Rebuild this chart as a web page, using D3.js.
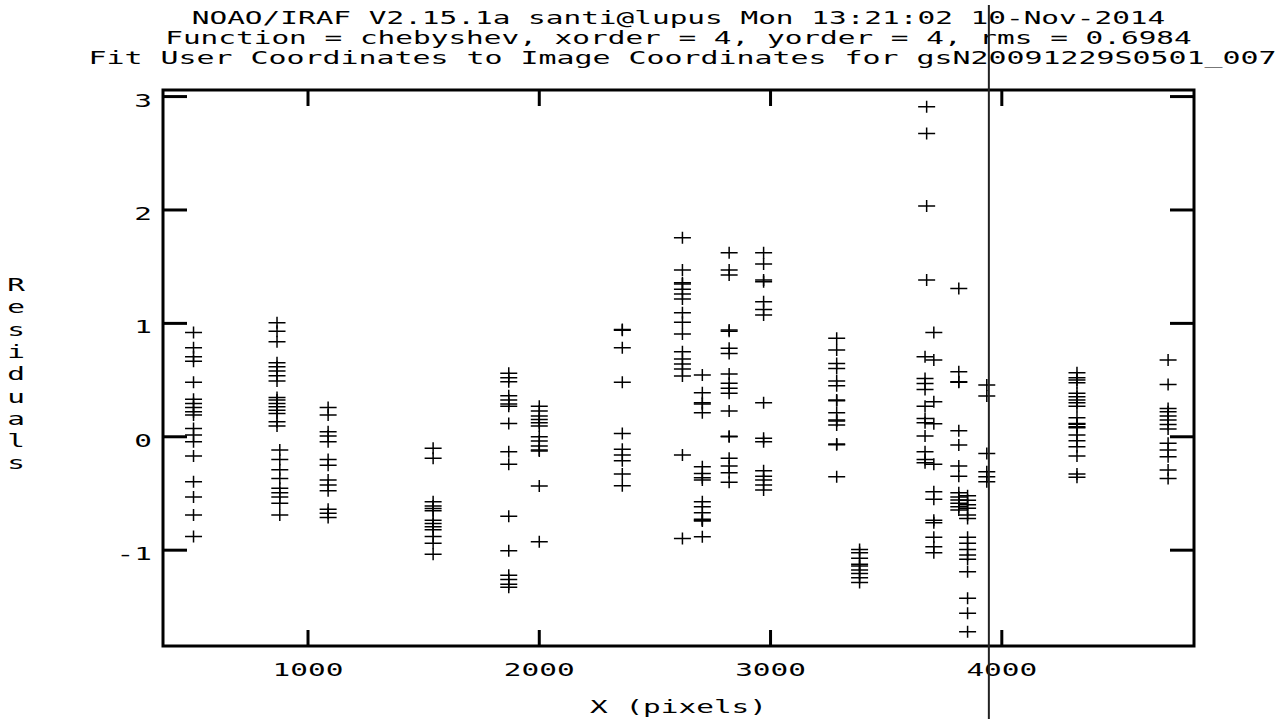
<!DOCTYPE html>
<html>
<head>
<meta charset="utf-8">
<script src="https://cdn.jsdelivr.net/npm/d3@7"></script>
<style>
  body { margin: 0; background: #fff; }
  svg { display: block; }
  text { font-family: "DejaVu Sans Mono", monospace; font-size: 18px; fill: #000; }
</style>
</head>
<body>
<div id="chart"></div>
<script>
// title lines, axis labels and ticks
const titleLines = [
  "NOAO/IRAF V2.15.1a santi@lupus Mon 13:21:02 10-Nov-2014",
  "Function = chebyshev, xorder = 4, yorder = 4, rms = 0.6984",
  "Fit User Coordinates to Image Coordinates for gsN20091229S0501_007"
];
const xLabel = "X (pixels)";
const yLabel = "Residuals";
const xTicks = [1000, 2000, 3000, 4000];
const yTicks = [-1, 0, 1, 2, 3];
const xDomain = [373, 4831];
const yDomain = [-1.845, 3.058];
const cursorX = 3944;

// x position (pixels) of each column of points
const colX = [505, 866, 878, 1087, 1541, 1868, 2000, 2359, 2619, 2705, 2821, 2970,
  3286, 3385, 3675, 3668, 3706, 3814, 3852, 3935, 4325, 4719];

// residuals in each column
const res01 = [0.92, 0.785, 0.705, 0.667, 0.48, 0.332, 0.294, 0.259, 0.22, 0.191, 0.074, 0.015, -0.044, -0.17, -0.397, -0.53, -0.69, -0.88];
const res02 = [1.005, 0.93, 0.838, 0.653, 0.617, 0.58, 0.538, 0.491, 0.347, 0.324, 0.294, 0.265, 0.235, 0.206, 0.132, 0.094];
const res03 = [-0.117, -0.2, -0.29, -0.367, -0.455, -0.494, -0.53, -0.587, -0.69];
const res04 = [0.259, 0.191, 0.044, 0.006, -0.044, -0.2, -0.25, -0.382, -0.426, -0.476, -0.64, -0.675, -0.711];
const res05 = [-0.102, -0.19, -0.573, -0.611, -0.632, -0.653, -0.735, -0.764, -0.794, -0.82, -0.88, -0.94, -1.035];
const res06 = [0.56, 0.52, 0.485, 0.362, 0.324, 0.288, 0.27, 0.118, -0.132, -0.243, -0.7, -1.005, -1.22, -1.258, -1.3, -1.328];
const res07 = [0.27, 0.227, 0.183, 0.153, 0.124, 0.094, 0.0, -0.038, -0.082, -0.117, -0.126, -0.435, -0.926];
const res08 = [0.947, 0.94, 0.785, 0.48, 0.03, -0.111, -0.161, -0.212, -0.329, -0.432];
const res09 = [1.755, 1.47, 1.358, 1.347, 1.3, 1.258, 1.214, 1.094, 1.009, 0.906, 0.75, 0.685, 0.641, 0.597, 0.535, -0.161, -0.896];
const res10 = [0.544, 0.388, 0.3, 0.29, 0.212, -0.265, -0.323, -0.362, -0.382, -0.573, -0.617, -0.67, -0.728, -0.735, -0.743, -0.882];
const res11 = [1.623, 1.47, 1.426, 0.941, 0.93, 0.78, 0.735, 0.553, 0.471, 0.427, 0.383, 0.227, 0.0, 0.005, -0.19, -0.258, -0.317, -0.402];
const res12 = [1.623, 1.523, 1.382, 1.367, 1.19, 1.123, 1.073, 0.3, -0.014, -0.044, -0.3, -0.347, -0.382, -0.426, -0.47];
const res13 = [0.868, 0.765, 0.647, 0.603, 0.491, 0.45, 0.324, 0.318, 0.212, 0.147, 0.14, 0.103, -0.064, -0.07, -0.353];
const res14 = [-0.993, -1.023, -1.072, -1.125, -1.14, -1.175, -1.205, -1.243, -1.284];
const res15 = [2.91, 2.675, 2.034, 1.382];
const res16 = [0.705, 0.515, 0.47, 0.418, 0.27, 0.162, 0.124, 0.006, -0.132, -0.2, -0.229];
const res17 = [0.92, 0.676, 0.309, 0.115, -0.243, -0.485, -0.552, -0.735, -0.758, -0.887, -0.97, -1.023];
const res18 = [1.308, 0.573, 0.485, 0.48, 0.053, -0.073, -0.258, -0.347, -0.494, -0.53, -0.558, -0.587, -0.617, -0.646];
const res19 = [-0.52, -0.56, -0.6, -0.63, -0.69, -0.72, -0.887, -0.94, -0.993, -1.043, -1.081, -1.19, -1.425, -1.557, -1.72];
const res20 = [0.456, 0.359, -0.147, -0.309, -0.353, -0.397];
const res21 = [0.565, 0.52, 0.5, 0.476, 0.383, 0.353, 0.324, 0.3, 0.27, 0.168, 0.118, 0.11, 0.088, 0.08, 0.015, -0.035, -0.088, -0.17, -0.329, -0.358];
const res22 = [0.676, 0.462, 0.25, 0.22, 0.183, 0.147, 0.109, 0.068, -0.058, -0.117, -0.176, -0.294, -0.367];

const columns = [res01, res02, res03, res04, res05, res06, res07, res08, res09, res10, res11,
  res12, res13, res14, res15, res16, res17, res18, res19, res20, res21, res22];

const width = 1279,
  height = 719;
const plotLeft = 163, plotTop = 90, plotRight = 1194, plotBottom = 646;
const charW = 17.7;

const svg = d3.select("#chart")
  .append("svg")
  .attr("width", width)
  .attr("height", height);

const x = d3.scaleLinear().domain(xDomain).range([plotLeft, plotRight]);
const y = d3.scaleLinear().domain(yDomain).range([plotBottom, plotTop]);

// stretched monospace text, like the IRAF plot font
function label(str, px, py, anchor, cw = charW) {
  return svg.append("text")
    .attr("x", px)
    .attr("y", py)
    .attr("text-anchor", anchor)
    .attr("textLength", str.length * cw)
    .attr("lengthAdjust", "spacingAndGlyphs")
    .text(str);
}

// title (the last line runs a little wider)
const midX = (plotLeft + plotRight) / 2;
label(titleLines[0], midX, 24, "middle");
label(titleLines[1], midX, 44, "middle");
label(titleLines[2], midX + 4, 64, "middle", 18.0);

// points
const points = columns.flatMap((col, i) => col.map(v => ({ x: colX[i], y: v })));
svg.append("g")
  .attr("stroke", "#000")
  .attr("stroke-width", 1.5)
  .selectAll("path")
  .data(points)
  .join("path")
  .attr("d", d => {
    const px = x(d.x), py = y(d.y);
    return `M${px - 8.5},${py}H${px + 8.5}M${px},${py - 6}V${py + 6}`;
  });

// frame
svg.append("rect")
  .attr("x", plotLeft)
  .attr("y", plotTop)
  .attr("width", plotRight - plotLeft)
  .attr("height", plotBottom - plotTop)
  .attr("fill", "none")
  .attr("stroke", "#000")
  .attr("stroke-width", 3);

// ticks on all four sides
const ticks = svg.append("g").attr("stroke", "#000").attr("stroke-width", 3);
xTicks.forEach(t => {
  ticks.append("line").attr("x1", x(t)).attr("x2", x(t)).attr("y1", plotBottom).attr("y2", plotBottom - 16);
  ticks.append("line").attr("x1", x(t)).attr("x2", x(t)).attr("y1", plotTop).attr("y2", plotTop + 16);
  label(String(t), x(t), 676, "middle");
});
yTicks.forEach(t => {
  ticks.append("line").attr("x1", plotLeft).attr("x2", plotLeft + 24).attr("y1", y(t)).attr("y2", y(t));
  ticks.append("line").attr("x1", plotRight).attr("x2", plotRight - 24).attr("y1", y(t)).attr("y2", y(t));
  label(String(t), 152, y(t) + 10, "end");
});

// axis labels
label(xLabel, midX, 713, "middle");
yLabel.split("").forEach((c, i) => label(c, 16, 291 + i * 22.3, "middle"));

// cursor line
svg.append("line")
  .attr("x1", x(cursorX))
  .attr("x2", x(cursorX))
  .attr("y1", 5)
  .attr("y2", height)
  .attr("stroke", "#222")
  .attr("stroke-width", 2);
</script>
</body>
</html>
